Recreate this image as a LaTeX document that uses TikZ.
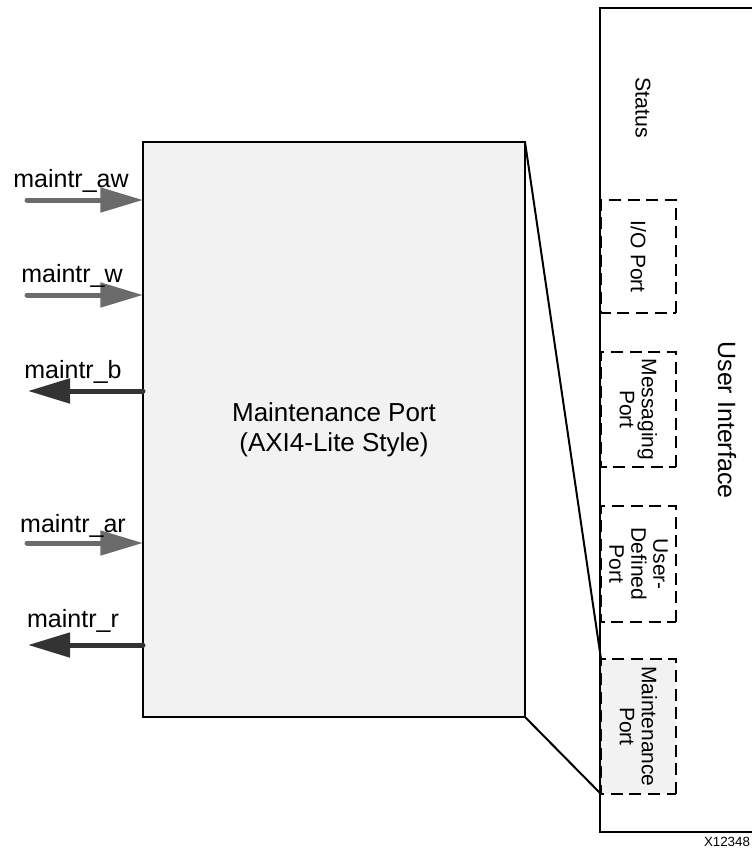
\documentclass[tikz,border=0pt]{standalone}
\usepackage{fontspec}
\setmainfont{Liberation Sans}
\usetikzlibrary{arrows.meta}
\definecolor{boxgray}{HTML}{F2F2F2}
\definecolor{ingray}{HTML}{6B6B6B}
\definecolor{outgray}{HTML}{333333}
\begin{document}
\begin{tikzpicture}[x=0.75pt, y=-0.75pt,
  box/.style={draw, line width=1.5pt, fill=boxgray, outer sep=0pt},
  port/.style={draw, dashed, dash pattern=on 9pt off 5pt, line width=1.8pt, rotate=-90,
    minimum height=56.25pt, inner sep=1pt, align=center, outer sep=0pt,
    font=\fontsize{15.75}{16.5}\selectfont},
  sig/.style={anchor=base, font=\fontsize{18.75}{20}\selectfont},
  inarrow/.style={ingray, line width=3.75pt, line cap=round, -{Triangle[length=32pt, width=18pt]}},
  outarrow/.style={outgray, line width=3.75pt, line cap=round, -{Triangle[length=31.5pt, width=18pt]}}]
\useasboundingbox (0,0) rectangle (752,851);

\node (main) [box, minimum width=286.5pt, minimum height=431.25pt, align=center,
  font=\fontsize{19.5}{22.5}\selectfont] at (334,429.5) {Maintenance Port\\(AXI4-Lite Style)};

\draw [line width=1.5pt] (752,8) -- (600,8) -- (600,832) -- (752,832);
\node (status) [rotate=-90, font=\fontsize{16}{16.5}\selectfont] at (643,108) {Status};
\node (io) [port, minimum width=84.75pt] at (638.5,256.5) {I/O Port};
\node (msg) [port, minimum width=86.25pt] at (638.5,409.5) {Messaging\\Port};
\node (udp) [port, minimum width=87pt] at (638.5,564) {User-\\Defined\\Port};
\node (maint) [port, fill=boxgray, minimum width=101.25pt] at (638.5,726.5) {Maintenance\\Port};
\node (ui) [rotate=-90, font=\fontsize{18.75}{20}\selectfont] at (727,420) {User Interface};
\node (xnum) [font=\fontsize{10}{12}\selectfont] at (727,842) {X12348};

\draw [line width=1.5pt] (main.north east) -- (maint.south west);
\draw [line width=1.5pt] (main.south east) -- (maint.south east);

\coordinate (aw) at (27,200);
\coordinate (w) at (27,295);
\coordinate (b) at (28,391);
\coordinate (ar) at (27,543);
\coordinate (r) at (28,645);

\draw [inarrow] (aw) -- (aw -| main.west);
\draw [inarrow] (w) -- (w -| main.west);
\draw [outarrow] (b -| main.west) -- (b);
\draw [inarrow] (ar) -- (ar -| main.west);
\draw [outarrow] (r -| main.west) -- (r);

\node (lblaw) [sig] at (71,187) {maintr\_aw};
\node (lblw) [sig] at (72,282) {maintr\_w};
\node (lblb) [sig] at (73,378) {maintr\_b};
\node (lblar) [sig] at (73,532) {maintr\_ar};
\node (lblr) [sig] at (73,627) {maintr\_r};
\end{tikzpicture}
\end{document}
